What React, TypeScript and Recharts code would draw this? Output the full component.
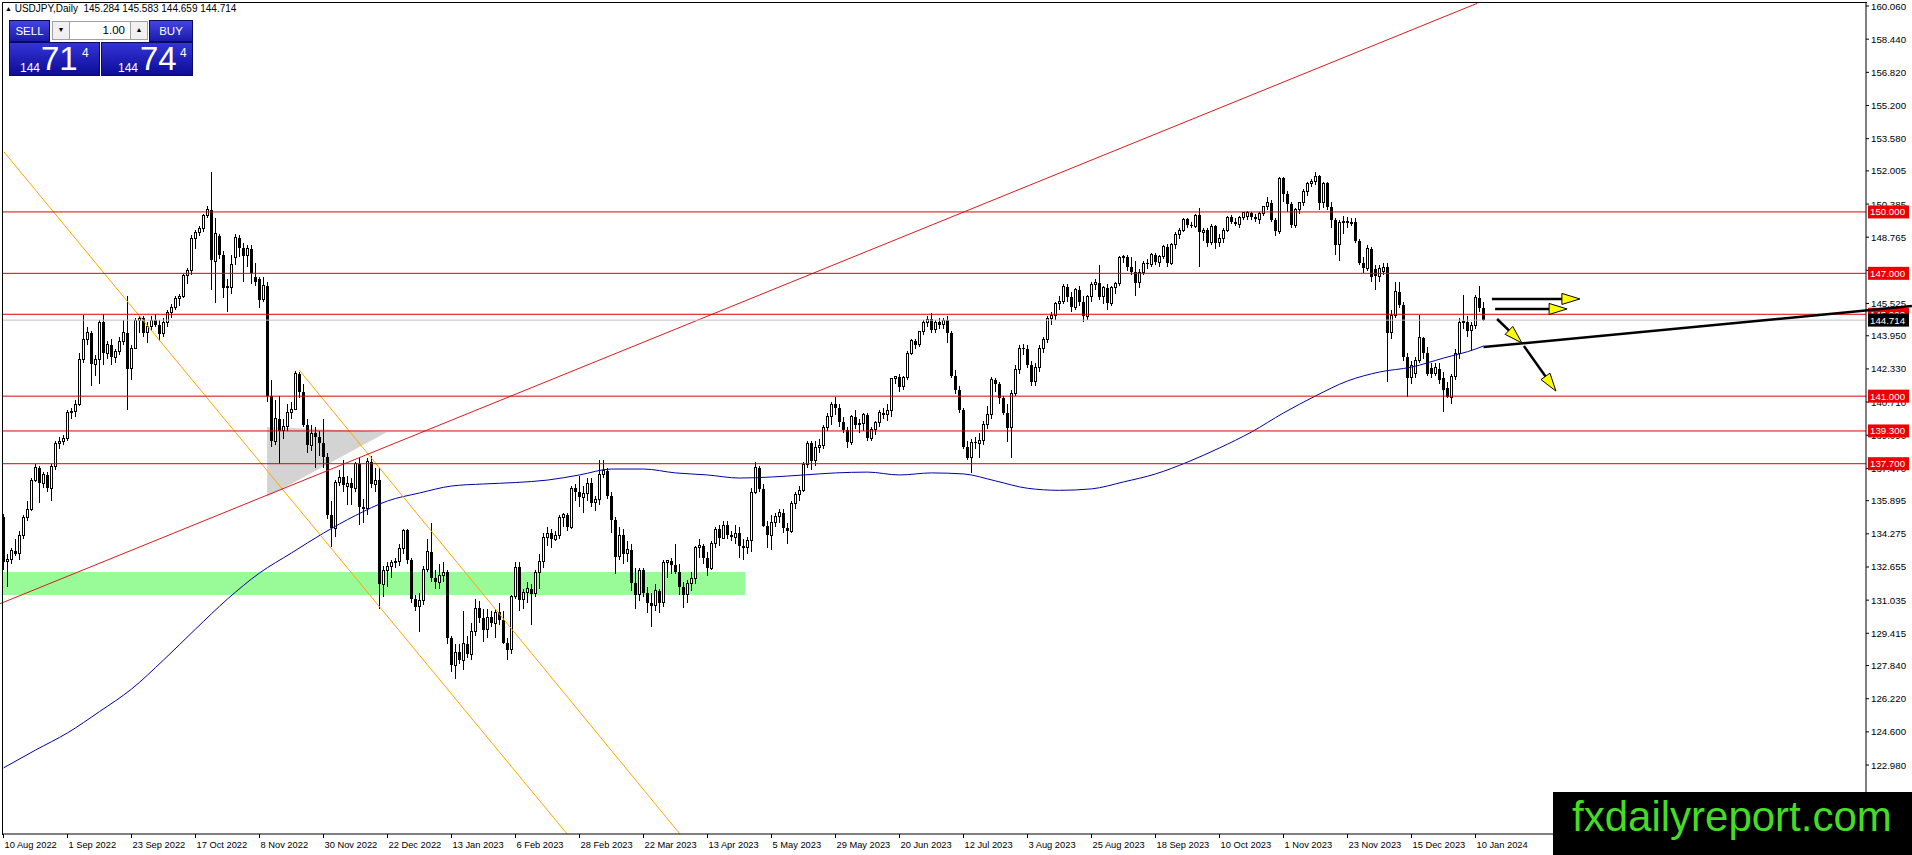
import React from "react";
import { Bar, ComposedChart, Line, ReferenceArea, ReferenceLine, XAxis, YAxis } from "recharts";

const FONT = "'Liberation Sans', Arial, sans-serif";

// bar index of each date label on the time axis
const tickIdx = [0, 16, 32, 48, 64, 80, 96, 112, 128, 144, 160, 176, 192, 208, 224, 240, 256, 272, 288, 304, 320, 336, 352, 368];
const tickLabels = [
  "10 Aug 2022", "1 Sep 2022", "23 Sep 2022", "17 Oct 2022", "8 Nov 2022", "30 Nov 2022", "22 Dec 2022",
  "13 Jan 2023", "6 Feb 2023", "28 Feb 2023", "22 Mar 2023", "13 Apr 2023", "5 May 2023", "29 May 2023",
  "20 Jun 2023", "12 Jul 2023", "3 Aug 2023", "25 Aug 2023", "18 Sep 2023", "10 Oct 2023", "1 Nov 2023",
  "23 Nov 2023", "15 Dec 2023", "10 Jan 2024",
];

const yTicks = [
  160.06, 158.44, 156.82, 155.2, 153.58, 152.005, 150.385, 148.765, 147.145, 145.525, 143.95, 142.33,
  140.71, 139.09, 137.47, 135.895, 134.275, 132.655, 131.035, 129.415, 127.84, 126.22, 124.6, 122.98,
];

// daily USDJPY candles: open, high, low, close
const candles: [number, number, number, number][] = [
  [135.1, 135.25, 132.5, 132.9], [132.9, 133.3, 131.7, 133.0], [133.0, 133.6, 132.8, 133.45], [133.45, 134.0, 133.2, 133.3],
  [133.3, 134.4, 133.0, 134.2], [134.2, 135.2, 134.0, 135.05], [135.05, 135.9, 134.9, 135.45], [135.45, 137.0, 135.4, 136.9],
  [136.9, 137.7, 136.8, 137.5], [137.5, 137.6, 135.8, 136.75], [136.75, 137.3, 136.5, 137.15], [137.15, 137.3, 136.3, 136.5],
  [136.5, 137.7, 135.9, 137.55], [137.55, 138.8, 137.4, 138.7], [138.7, 139.0, 138.4, 138.8], [138.8, 139.1, 138.6, 138.95],
  [138.95, 140.3, 138.8, 140.2], [140.2, 140.4, 139.9, 140.25], [140.25, 140.8, 140.0, 140.6], [140.6, 143.1, 140.5, 142.8],
  [142.8, 144.95, 142.6, 143.75], [143.75, 144.4, 143.5, 144.1], [144.1, 144.2, 141.5, 142.55], [142.55, 143.0, 142.0, 142.8],
  [142.8, 144.7, 141.6, 144.6], [144.6, 145.0, 142.5, 143.1], [143.1, 143.7, 142.8, 143.5], [143.5, 143.8, 142.5, 142.9],
  [142.9, 143.3, 142.6, 143.2], [143.2, 143.9, 143.0, 143.65], [143.65, 144.7, 143.5, 144.1], [144.1, 145.9, 140.3, 142.35],
  [142.35, 143.5, 141.8, 143.35], [143.35, 144.8, 143.3, 144.7], [144.7, 144.9, 144.1, 144.8], [144.8, 144.9, 143.9, 144.1],
  [144.1, 144.6, 143.6, 144.4], [144.4, 144.9, 144.2, 144.7], [144.7, 145.0, 144.4, 144.5], [144.5, 144.7, 143.7, 144.05],
  [144.05, 144.8, 143.9, 144.6], [144.6, 145.2, 144.4, 145.1], [145.1, 145.5, 144.8, 145.35], [145.35, 145.9, 145.2, 145.75],
  [145.75, 146.0, 145.4, 145.85], [145.85, 146.95, 145.8, 146.9], [146.9, 147.25, 146.5, 147.15], [147.15, 148.85, 146.9, 148.7],
  [148.7, 149.1, 148.2, 149.0], [149.0, 149.3, 148.8, 149.2], [149.2, 149.9, 149.0, 149.85], [149.85, 150.3, 149.7, 150.1],
  [150.1, 151.95, 146.2, 147.65], [147.6, 149.7, 145.55, 148.95], [148.8, 148.9, 147.7, 147.9], [147.9, 148.1, 145.8, 146.3],
  [146.4, 146.7, 145.1, 146.3], [146.3, 147.9, 146.0, 147.45], [147.75, 148.9, 147.4, 148.75], [148.75, 148.85, 147.8, 148.25],
  [148.25, 148.5, 146.6, 147.85], [147.85, 148.4, 147.3, 148.2], [148.2, 148.4, 146.5, 147.0], [146.8, 147.5, 146.4, 146.6],
  [146.7, 146.8, 145.3, 145.7], [145.7, 146.8, 145.6, 146.4], [146.4, 146.6, 140.7, 141.0], [141.0, 141.8, 138.5, 138.8],
  [138.8, 140.8, 138.6, 139.9], [139.9, 141.0, 137.7, 139.3], [139.3, 139.9, 138.9, 139.5], [139.5, 140.6, 139.3, 140.2],
  [140.2, 140.7, 139.9, 140.35], [140.35, 142.25, 140.3, 142.1], [142.1, 142.2, 140.9, 141.2], [141.2, 141.6, 139.5, 139.6],
  [139.6, 139.9, 138.2, 138.6], [138.6, 139.6, 138.3, 139.2], [139.2, 139.5, 137.5, 139.0], [139.0, 139.3, 138.1, 138.7],
  [138.7, 139.9, 137.5, 138.05], [138.05, 138.2, 135.0, 135.2], [135.2, 135.9, 133.65, 134.55], [134.55, 136.9, 134.1, 136.8],
  [136.8, 137.4, 136.6, 137.05], [137.05, 137.9, 136.3, 136.65], [136.6, 137.1, 135.7, 136.75], [136.75, 137.0, 135.7, 136.5],
  [136.5, 137.8, 136.3, 137.7], [137.7, 138.0, 134.7, 135.6], [135.6, 136.0, 134.8, 135.5], [135.5, 138.0, 135.2, 137.8],
  [137.8, 138.1, 136.5, 136.7], [136.7, 137.5, 136.3, 136.9], [136.9, 137.5, 130.6, 131.8], [131.8, 132.7, 131.2, 132.5],
  [132.5, 132.9, 131.7, 132.7], [132.7, 133.0, 132.1, 132.85], [132.85, 133.1, 132.6, 132.9], [132.9, 133.8, 132.7, 133.55],
  [133.55, 134.5, 133.3, 134.45], [134.45, 134.5, 132.8, 133.0], [133.0, 133.1, 130.9, 131.1], [131.1, 131.3, 130.5, 130.7],
  [130.7, 131.4, 129.5, 131.0], [131.0, 132.7, 130.8, 132.55], [132.55, 134.0, 132.4, 133.4], [133.4, 134.8, 131.9, 132.1],
  [132.1, 132.5, 131.6, 131.9], [131.9, 132.8, 131.6, 132.25], [132.25, 132.9, 131.9, 132.4], [132.4, 132.5, 128.9, 129.2],
  [129.2, 129.3, 127.5, 127.85], [127.85, 128.9, 127.2, 128.5], [128.5, 128.9, 127.9, 128.1], [128.1, 130.5, 127.6, 128.9],
  [128.9, 129.3, 128.2, 128.4], [128.4, 129.9, 128.1, 129.5], [129.5, 131.1, 129.3, 130.65], [130.65, 131.0, 129.9, 130.15],
  [130.15, 130.6, 129.0, 129.6], [129.6, 130.6, 129.2, 130.2], [130.2, 130.5, 129.7, 129.9], [129.9, 130.6, 129.2, 130.45],
  [130.45, 130.9, 129.8, 130.05], [130.05, 130.5, 128.9, 128.95], [128.95, 129.2, 128.1, 128.6], [128.6, 131.3, 128.4, 131.2],
  [131.2, 132.9, 131.1, 132.65], [132.65, 132.9, 130.5, 131.05], [131.05, 131.6, 130.6, 131.4], [131.4, 131.9, 130.9, 131.6],
  [131.6, 131.8, 129.8, 131.35], [131.35, 132.5, 131.2, 132.4], [132.4, 133.3, 131.6, 132.9], [132.9, 134.3, 132.6, 134.1],
  [134.1, 134.6, 133.7, 134.3], [134.3, 134.5, 133.6, 134.0], [134.0, 134.4, 133.9, 134.2], [134.2, 135.2, 134.0, 135.05],
  [135.05, 135.3, 134.6, 135.2], [135.2, 135.3, 134.4, 134.6], [134.6, 136.6, 134.5, 136.5], [136.5, 136.7, 135.9, 136.3],
  [136.3, 137.1, 135.6, 136.05], [136.05, 136.6, 135.3, 136.25], [136.25, 137.0, 135.9, 136.75], [136.75, 137.0, 135.6, 135.8],
  [135.8, 136.1, 135.4, 135.95], [135.95, 137.9, 135.7, 137.15], [137.15, 137.9, 137.0, 137.35], [137.35, 137.5, 136.0, 136.1],
  [136.1, 136.3, 134.3, 134.95], [134.95, 135.1, 132.3, 133.15], [133.15, 134.6, 133.0, 134.2], [134.2, 134.5, 132.8, 133.3],
  [133.3, 133.9, 132.9, 133.5], [133.5, 133.8, 131.5, 131.85], [131.85, 132.6, 130.6, 131.3], [131.3, 132.6, 131.0, 132.5],
  [132.5, 132.6, 131.2, 131.4], [131.4, 131.7, 130.4, 130.9], [130.9, 131.4, 129.7, 130.75], [130.75, 131.8, 130.5, 131.5],
  [131.5, 131.6, 130.4, 130.9], [130.9, 133.0, 130.7, 132.85], [132.85, 133.0, 132.1, 132.95], [132.95, 133.1, 132.3, 132.75],
  [132.75, 133.8, 132.3, 132.4], [132.4, 132.8, 131.3, 131.7], [131.7, 131.9, 130.65, 131.3], [131.3, 132.0, 130.9, 131.85],
  [131.85, 132.4, 131.5, 132.1], [132.1, 133.7, 131.8, 133.6], [133.6, 134.0, 133.1, 133.7], [133.7, 133.8, 132.8, 133.1],
  [133.1, 133.4, 132.2, 132.6], [132.6, 133.9, 132.5, 133.8], [133.8, 134.6, 133.6, 134.5], [134.5, 134.7, 133.7, 134.05],
  [134.05, 134.9, 134.0, 134.7], [134.7, 134.9, 134.0, 134.2], [134.2, 134.4, 133.9, 134.1], [134.1, 134.7, 133.8, 134.3],
  [134.3, 134.6, 133.1, 133.7], [133.7, 134.0, 133.0, 133.6], [133.6, 134.1, 133.3, 133.95], [133.95, 136.5, 133.4, 136.3],
  [136.3, 137.8, 136.2, 137.5], [137.5, 137.6, 136.3, 136.45], [136.45, 136.7, 134.6, 134.65], [134.65, 134.9, 133.6, 134.2],
  [134.2, 135.2, 133.5, 134.85], [134.85, 135.3, 134.6, 135.1], [135.1, 135.5, 134.8, 135.3], [135.3, 135.5, 134.3, 134.55],
  [134.55, 134.8, 133.8, 134.4], [134.4, 135.9, 134.3, 135.75], [135.75, 136.3, 135.5, 136.2], [136.2, 136.6, 135.9, 136.4],
  [136.4, 137.8, 136.3, 137.65], [137.65, 138.8, 137.5, 138.7], [138.7, 138.8, 137.4, 137.85], [137.85, 138.8, 137.6, 138.5],
  [138.5, 138.9, 138.2, 138.6], [138.6, 139.6, 138.4, 139.45], [139.45, 140.2, 139.3, 140.0], [140.0, 140.7, 139.6, 140.6],
  [140.6, 140.95, 140.1, 140.4], [140.4, 140.6, 139.5, 139.75], [139.75, 140.0, 139.2, 139.35], [139.35, 139.5, 138.45, 138.75],
  [138.75, 140.1, 138.6, 140.0], [140.0, 140.3, 139.4, 139.6], [139.6, 139.9, 139.2, 139.65], [139.65, 140.2, 139.3, 140.1],
  [140.1, 140.2, 138.8, 138.95], [138.95, 139.5, 138.8, 139.35], [139.35, 139.8, 139.1, 139.7], [139.7, 140.3, 139.5, 140.2],
  [140.2, 140.4, 139.9, 140.1], [140.1, 140.6, 139.8, 140.3], [140.3, 141.9, 140.0, 141.85], [141.85, 142.0, 141.6, 141.95],
  [141.95, 142.1, 141.2, 141.45], [141.45, 142.0, 141.3, 141.9], [141.9, 143.2, 141.8, 143.1], [143.1, 143.8, 143.0, 143.7],
  [143.7, 143.8, 143.3, 143.5], [143.5, 144.2, 143.4, 144.15], [144.15, 144.7, 144.0, 144.6], [144.6, 144.9, 144.4, 144.75],
  [144.75, 145.05, 144.1, 144.25], [144.25, 144.7, 144.1, 144.6], [144.6, 144.8, 144.3, 144.5], [144.5, 144.8, 144.3, 144.7],
  [144.7, 144.9, 143.6, 144.1], [144.1, 144.2, 141.9, 142.0], [142.0, 142.3, 141.1, 141.3], [141.3, 141.5, 140.2, 140.3],
  [140.3, 140.4, 138.4, 138.5], [138.5, 138.8, 137.9, 138.0], [138.0, 138.9, 137.25, 138.75], [138.75, 139.0, 138.4, 138.7],
  [138.7, 139.2, 138.0, 138.85], [138.85, 139.8, 138.6, 139.6], [139.6, 140.5, 139.4, 140.1], [140.1, 141.95, 139.9, 141.8],
  [141.8, 141.9, 141.2, 141.6], [141.6, 141.7, 140.6, 140.9], [140.9, 141.0, 140.1, 140.2], [140.2, 140.6, 138.75, 139.45],
  [139.45, 141.3, 138.0, 141.15], [141.15, 142.5, 141.0, 142.3], [142.3, 143.5, 142.1, 143.35], [143.35, 143.55, 143.0, 143.3],
  [143.3, 143.5, 142.4, 142.5], [142.5, 142.7, 141.5, 141.7], [141.7, 142.6, 141.5, 142.4], [142.4, 143.5, 142.2, 143.35],
  [143.35, 143.9, 143.1, 143.75], [143.75, 144.9, 143.6, 144.8], [144.8, 145.1, 144.5, 144.95], [144.95, 145.6, 144.7, 145.55],
  [145.55, 145.9, 145.2, 145.6], [145.6, 146.5, 145.5, 146.35], [146.35, 146.5, 145.6, 145.85], [145.85, 146.1, 145.1, 145.35],
  [145.35, 146.3, 145.2, 146.2], [146.2, 146.4, 145.4, 145.6], [145.6, 145.9, 144.6, 144.9], [144.9, 145.95, 144.7, 145.85],
  [145.85, 146.6, 145.6, 146.45], [146.45, 146.7, 146.2, 146.55], [146.55, 147.4, 145.7, 145.85], [145.85, 146.4, 145.5, 146.3],
  [146.3, 146.5, 145.2, 145.55], [145.55, 146.4, 145.4, 146.3], [146.3, 146.6, 146.0, 146.5], [146.5, 147.85, 146.4, 147.75],
  [147.75, 147.9, 147.5, 147.8], [147.8, 147.9, 147.1, 147.3], [147.3, 147.8, 146.9, 147.05], [147.05, 147.6, 145.9, 146.55],
  [146.55, 147.2, 146.3, 147.05], [147.05, 147.6, 146.9, 147.5], [147.5, 147.7, 147.2, 147.45], [147.45, 148.0, 147.3, 147.9],
  [147.9, 148.0, 147.4, 147.55], [147.55, 147.9, 147.3, 147.8], [147.8, 148.4, 147.7, 148.3], [148.3, 148.45, 147.3, 147.5],
  [147.5, 148.5, 147.4, 148.4], [148.4, 149.0, 148.2, 148.9], [148.9, 149.2, 148.7, 149.1], [149.1, 149.7, 149.0, 149.65],
  [149.65, 149.7, 149.2, 149.35], [149.35, 149.5, 149.2, 149.3], [149.3, 149.9, 149.2, 149.85], [149.85, 150.2, 147.3, 149.0],
  [149.0, 149.2, 148.6, 149.1], [149.1, 149.2, 148.3, 148.5], [148.5, 149.4, 148.4, 149.3], [149.3, 149.35, 148.2, 148.5],
  [148.5, 148.9, 148.3, 148.7], [148.7, 149.2, 148.5, 149.1], [149.1, 149.8, 149.0, 149.75], [149.75, 149.85, 149.4, 149.5],
  [149.5, 149.7, 149.3, 149.4], [149.4, 149.8, 149.2, 149.75], [149.75, 150.0, 149.6, 149.95], [149.8, 150.05, 149.6, 149.95],
  [149.95, 150.0, 149.6, 149.75], [149.75, 149.9, 149.5, 149.65], [149.65, 150.0, 149.4, 149.9], [149.9, 150.3, 149.8, 150.25],
  [150.25, 150.75, 150.1, 150.45], [150.45, 150.6, 149.5, 149.6], [149.6, 149.7, 148.8, 149.05], [149.05, 151.7, 148.9, 151.65],
  [151.65, 151.7, 150.5, 150.9], [150.9, 151.0, 150.0, 150.4], [150.4, 150.5, 149.2, 149.35], [149.35, 150.2, 149.2, 150.1],
  [150.1, 150.5, 149.9, 150.45], [150.45, 151.1, 150.3, 151.0], [151.0, 151.45, 150.8, 151.4], [151.4, 151.6, 151.2, 151.5],
  [151.5, 151.95, 151.3, 151.75], [151.75, 151.8, 150.1, 150.45], [150.45, 151.45, 150.2, 151.4], [151.4, 151.45, 150.1, 150.25],
  [150.25, 150.5, 149.2, 149.6], [149.6, 149.7, 147.9, 148.4], [148.4, 149.6, 147.6, 149.5], [149.5, 149.8, 148.9, 149.55],
  [149.55, 149.75, 149.2, 149.45], [149.45, 149.7, 149.3, 149.5], [149.5, 149.7, 148.5, 148.6], [148.6, 148.7, 147.4, 147.5],
  [147.5, 147.8, 147.0, 147.25], [147.25, 148.4, 147.1, 148.2], [148.2, 148.3, 146.6, 146.8], [147.2, 147.4, 146.2, 146.85],
  [146.85, 147.4, 146.6, 147.25], [147.1, 147.5, 146.9, 147.3], [147.3, 147.5, 141.7, 144.1], [144.1, 145.2, 143.8, 144.95],
  [144.95, 146.6, 144.8, 146.1], [146.1, 146.6, 145.3, 145.45], [145.45, 145.6, 142.7, 142.9], [142.9, 143.1, 140.96, 141.9],
  [141.9, 142.7, 141.6, 142.5], [142.1, 142.9, 141.9, 142.75], [142.75, 144.95, 142.6, 143.85], [143.85, 143.9, 142.8, 143.1],
  [143.1, 143.4, 142.0, 142.1], [142.4, 142.6, 141.9, 142.1], [142.1, 142.6, 142.0, 142.4], [142.35, 142.6, 141.6, 141.8],
  [141.9, 142.2, 140.25, 141.3], [141.4, 141.7, 140.9, 140.95], [140.95, 142.1, 140.6, 141.95], [141.95, 143.3, 141.8, 143.1],
  [143.1, 144.8, 142.8, 144.6], [144.6, 145.95, 144.3, 144.65], [144.6, 144.9, 143.9, 144.2], [144.2, 144.6, 143.2, 144.45],
  [144.45, 145.95, 144.3, 145.8], [145.8, 146.4, 145.1, 145.3], [145.284, 145.583, 144.659, 144.714],
];

// moving average read at every 8th bar
const maIdx = [0, 8, 16, 24, 32, 40, 48, 56, 64, 72, 80, 88, 96, 104, 112, 120, 128, 136, 144, 152, 160, 168, 176, 184, 192, 200, 208, 216, 224, 232, 240, 248, 256, 264, 272, 280, 288, 296, 304, 312, 320, 328, 336, 344, 352, 360, 368, 370];
const maValues = [
  122.84, 123.71, 124.55, 125.59, 126.69, 128.11, 129.62, 131.09, 132.36, 133.34, 134.31, 135.17, 135.88, 136.27, 136.61, 136.71,
  136.78, 136.9, 137.15, 137.44, 137.44, 137.25, 137.15, 137.0, 137.05, 137.15, 137.25, 137.29, 137.15, 137.25, 137.2, 136.86,
  136.5, 136.4, 136.47, 136.81, 137.2, 137.78, 138.47, 139.25, 140.18, 141.01, 141.74, 142.18, 142.42, 142.86, 143.3, 143.45,
];

const levels = [150, 147, 145, 141, 139.3, 137.7];
const levelLabels = ["150.000", "147.000", "145.000", "141.000", "139.300", "137.700"];
const bidPrice = 144.714;

// [barIndex, price] end points of the drawn objects
const redTrend = [[-0.875, 130.86], [368.4, 160.19]];
const orangeLines = [
  [[0.125, 152.93], [140.9, 119.61]],
  [[73.9, 142.28], [169.1, 119.61]],
];
const blackTrend = [[370, 143.4], [477.1, 145.4]];
const arrows = [
  [[372.1, 145.75], [394.1, 145.75]],
  [[372.9, 145.26], [390.9, 145.26]],
  [[373.4, 144.77], [379.6, 143.6]],
  [[380.1, 143.45], [388.1, 141.25]],
];
const greenZone = { x1: -0.375, x2: 185.4, y1: 131.29, y2: 132.41 };
const triangle = { x1: 65.9, x2: 95.9, top: 139.49, apex: 139.25, bottom: 136.07 };

const X_DOMAIN: [number, number] = [-0.375, 465.625];
const Y_DOMAIN: [number, number] = [119.61, 160.207];

const data = candles.map(([o, h, l, c], i) => {
  const k = maIdx.indexOf(i);
  return { i, o, h, l, c, ma: k >= 0 ? maValues[k] : null };
});

function Candle(props: any) {
  const { x, y, width, height, payload } = props;
  if (!payload) return null;
  const { o, h, l, c } = payload;
  const cx = x + width / 2;
  const py = (p: number) => (h === l ? y : y + ((h - p) / (h - l)) * height);
  const top = py(Math.max(o, c));
  const bot = py(Math.min(o, c));
  const bull = c >= o;
  return (
    <g shapeRendering="crispEdges">
      <line x1={cx} x2={cx} y1={y} y2={y + height} stroke="#000" strokeWidth={1} />
      {bull ? (
        <rect x={cx - 1} y={top} width={2} height={Math.max(bot - top, 0.5)} fill="#fff" stroke="#000" strokeWidth={1} />
      ) : (
        <rect x={cx - 1.5} y={top} width={3} height={Math.max(bot - top, 1)} fill="#000" />
      )}
    </g>
  );
}

function XTick({ x, y, payload }: any) {
  const k = tickIdx.indexOf(payload.value);
  return (
    <text x={x + 1} y={y + 8} fontSize={9.3} fontFamily={FONT} fill="#000" textAnchor="start">
      {tickLabels[k]}
    </text>
  );
}

function YTick({ x, y, payload }: any) {
  return (
    <text x={x} y={y + 3.5} fontSize={9.7} fontFamily={FONT} fill="#000" textAnchor="start">
      {payload.value.toFixed(3)}
    </text>
  );
}

function Tag({ viewBox, text, fill }: any) {
  if (!viewBox) return null;
  const x = viewBox.x + viewBox.width + 2;
  const y = viewBox.y;
  return (
    <g>
      <rect x={x} y={y - 6.5} width={41} height={13} fill={fill} />
      <text x={x + 2} y={y + 3.5} fontSize={9.7} fontFamily={FONT} fill="#fff">
        {text}
      </text>
    </g>
  );
}

function ArrowShape(props: any) {
  const { x1, y1, x2, y2 } = props;
  const dx = x2 - x1;
  const dy = y2 - y1;
  const len = Math.hypot(dx, dy) || 1;
  const ux = dx / len;
  const uy = dy / len;
  const head = 18;
  const half = 5.5;
  const bx = x2 - ux * head;
  const by = y2 - uy * head;
  const pts = `${x2},${y2} ${bx - uy * half},${by + ux * half} ${bx + uy * half},${by - ux * half}`;
  return (
    <g>
      <line x1={x1} y1={y1} x2={bx + ux * 2} y2={by + uy * 2} stroke="#000" strokeWidth={2.5} />
      <polygon points={pts} fill="#ffff00" stroke="#000" strokeWidth={1} />
    </g>
  );
}

function TriangleShape(props: any) {
  const { x, y, width, height } = props;
  const k = (triangle.top - triangle.apex) / (triangle.top - triangle.bottom);
  const pts = `${x},${y} ${x + width},${y + k * height} ${x},${y + height}`;
  return <polygon points={pts} fill="#d3d3d3" />;
}

function PriceBox({ left, width, small, big, sup, smallX, bigX, supX }: any) {
  return (
    <div
      style={{
        position: "absolute",
        left,
        top: 42,
        width,
        height: 34,
        background: "linear-gradient(#3434d8, #0c0c96)",
        border: "1px solid #0a0a60",
        boxSizing: "border-box",
        color: "#fff",
        fontFamily: FONT,
      }}
    >
      <span style={{ position: "absolute", left: smallX, top: 18, fontSize: 12 }}>{small}</span>
      <span style={{ position: "absolute", left: bigX, top: -2, fontSize: 33, lineHeight: "36px" }}>{big}</span>
      <span style={{ position: "absolute", left: supX, top: 3, fontSize: 12 }}>{sup}</span>
    </div>
  );
}

function Panel() {
  const head: React.CSSProperties = {
    position: "absolute",
    top: 20,
    height: 22,
    background: "linear-gradient(#4444e6, #1a1aa8)",
    border: "1px solid #0a0a60",
    boxSizing: "border-box",
    color: "#fff",
    fontFamily: FONT,
    fontSize: 11.5,
    lineHeight: "20px",
    textAlign: "center",
  };
  const btn: React.CSSProperties = {
    position: "absolute",
    top: 21,
    width: 18,
    height: 19,
    background: "#f0f0f0",
    border: "1px solid #a0a0a0",
    boxSizing: "border-box",
    fontSize: 7,
    lineHeight: "17px",
    textAlign: "center",
    color: "#000",
  };
  return (
    <>
      <div style={{ ...head, left: 9, width: 41 }}>SELL</div>
      <div style={{ ...btn, left: 52 }}>▼</div>
      <div
        style={{
          position: "absolute",
          left: 70,
          top: 21,
          width: 60,
          height: 19,
          background: "#fff",
          borderTop: "1px solid #a0a0a0",
          borderBottom: "1px solid #a0a0a0",
          boxSizing: "border-box",
          fontFamily: FONT,
          fontSize: 11.5,
          lineHeight: "17px",
          textAlign: "right",
          paddingRight: 5,
          color: "#000",
        }}
      >
        1.00
      </div>
      <div style={{ ...btn, left: 130 }}>▲</div>
      <div style={{ ...head, left: 149, width: 44 }}>BUY</div>
      <PriceBox left={9} width={91} small="144" big="71" sup="4" smallX={10} bigX={31} supX={72} />
      <PriceBox left={101} width={92} small="144" big="74" sup="4" smallX={16} bigX={38} supX={78} />
    </>
  );
}

export default function App() {
  return (
    <div style={{ position: "relative", width: 1912, height: 855, background: "#fff", overflow: "hidden" }}>
      <style>{`body{margin:0}`}</style>
      <ComposedChart width={1912} height={855} data={data} margin={{ top: 3, right: 0, bottom: 0, left: 2 }}>
        <XAxis
          dataKey="i"
          type="number"
          domain={X_DOMAIN}
          allowDataOverflow
          ticks={tickIdx}
          interval={0}
          tick={<XTick />}
          tickSize={4}
          height={21}
          axisLine={{ stroke: "#000" }}
          tickLine={{ stroke: "#000" }}
        />
        <YAxis
          orientation="right"
          type="number"
          domain={Y_DOMAIN}
          allowDataOverflow
          ticks={yTicks}
          interval={0}
          tick={<YTick />}
          tickSize={3}
          width={46}
          axisLine={{ stroke: "#000" }}
          tickLine={{ stroke: "#000" }}
        />
        <ReferenceArea
          x1={greenZone.x1}
          x2={greenZone.x2}
          y1={greenZone.y1}
          y2={greenZone.y2}
          fill="#98fb98"
          fillOpacity={1}
          stroke="none"
          ifOverflow="visible"
        />
        <ReferenceArea
          x1={triangle.x1}
          x2={triangle.x2}
          y1={triangle.bottom}
          y2={triangle.top}
          ifOverflow="visible"
          shape={(p: any) => <TriangleShape {...p} />}
        />
        <Bar dataKey={(d: any) => [d.l, d.h]} barSize={3} shape={(p: any) => <Candle {...p} />} isAnimationActive={false} />
        <Line
          dataKey="ma"
          type="monotone"
          stroke="#0000a8"
          strokeWidth={1}
          dot={false}
          activeDot={false}
          connectNulls
          isAnimationActive={false}
        />
        {orangeLines.map((seg, k) => (
          <ReferenceLine
            key={`o${k}`}
            segment={[{ x: seg[0][0], y: seg[0][1] }, { x: seg[1][0], y: seg[1][1] }]}
            stroke="#ffa500"
            strokeWidth={1}
            ifOverflow="visible"
          />
        ))}
        <ReferenceLine
          segment={[{ x: redTrend[0][0], y: redTrend[0][1] }, { x: redTrend[1][0], y: redTrend[1][1] }]}
          stroke="#dd1a1a"
          strokeWidth={1}
          ifOverflow="visible"
        />
        <ReferenceLine y={bidPrice} stroke="#c0c0c0" strokeWidth={1} />
        {levels.map((lv, k) => (
          <ReferenceLine key={`l${k}`} y={lv} stroke="#e00000" strokeWidth={1} />
        ))}
      </ComposedChart>

      {/* second layer with the same scales, so price tags and objects sit above the axis labels */}
      <div style={{ position: "absolute", left: 0, top: 0, pointerEvents: "none" }}>
        <ComposedChart width={1912} height={855} data={data} margin={{ top: 3, right: 46, bottom: 21, left: 2 }}>
          <XAxis dataKey="i" type="number" domain={X_DOMAIN} allowDataOverflow hide />
          <YAxis type="number" domain={Y_DOMAIN} allowDataOverflow hide />
          {levels.map((lv, k) => (
            <ReferenceLine
              key={`t${k}`}
              y={lv}
              stroke="none"
              label={{ content: (p: any) => <Tag {...p} text={levelLabels[k]} fill="#ee0000" /> }}
            />
          ))}
          <ReferenceLine
            y={bidPrice}
            stroke="none"
            label={{ content: (p: any) => <Tag {...p} text={bidPrice.toFixed(3)} fill="#000" /> }}
          />
          <ReferenceLine
            segment={[{ x: blackTrend[0][0], y: blackTrend[0][1] }, { x: blackTrend[1][0], y: blackTrend[1][1] }]}
            stroke="#000"
            strokeWidth={2.5}
            ifOverflow="visible"
          />
          {arrows.map((seg, k) => (
            <ReferenceLine
              key={`a${k}`}
              segment={[{ x: seg[0][0], y: seg[0][1] }, { x: seg[1][0], y: seg[1][1] }]}
              ifOverflow="visible"
              shape={(p: any) => <ArrowShape {...p} />}
            />
          ))}
        </ComposedChart>
      </div>

      <div
        style={{
          position: "absolute",
          left: 2,
          top: 2,
          width: 1865,
          height: 833,
          borderLeft: "1px solid #000",
          borderTop: "1px solid #000",
          boxSizing: "border-box",
          pointerEvents: "none",
        }}
      />
      <div style={{ position: "absolute", left: 5, top: 3, fontFamily: FONT, fontSize: 10, color: "#000", whiteSpace: "pre" }}>
        <span style={{ fontSize: 7, verticalAlign: "1px" }}>▲</span> USDJPY,Daily  145.284 145.583 144.659 144.714
      </div>
      <Panel />
      <div style={{ position: "absolute", left: 1553, top: 792, width: 359, height: 63, background: "#000" }} />
      <div
        style={{
          position: "absolute",
          left: 1572,
          top: 796,
          fontFamily: FONT,
          fontSize: 42,
          lineHeight: "42px",
          color: "#44dd22",
          whiteSpace: "nowrap",
        }}
      >
        fxdailyreport.com
      </div>
    </div>
  );
}
